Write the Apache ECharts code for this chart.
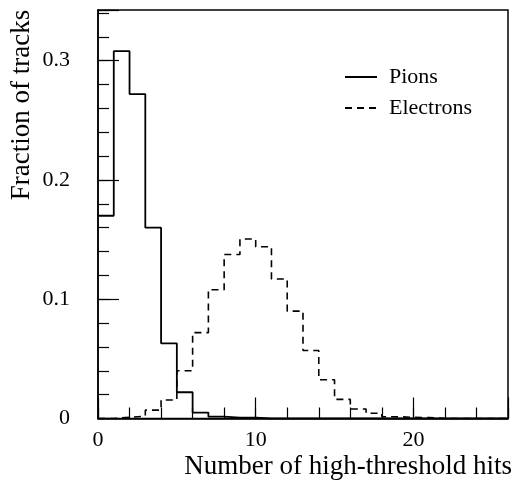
<!DOCTYPE html>
<html>
<head>
<meta charset="utf-8">
<script src="https://cdn.jsdelivr.net/npm/echarts@6/dist/echarts.min.js"></script>
<style>
html,body{margin:0;padding:0;background:#fff;}
#chart{width:515px;height:484px;}
</style>
</head>
<body>
<div id="chart"></div>
<script>
// Bin lower edges are 0,1,2,... (bin width 1)
const pions = [0.170, 0.308, 0.272, 0.160, 0.063, 0.022, 0.005, 0.0015, 0.0007, 0.0007,
  0, 0, 0, 0, 0, 0, 0, 0, 0, 0, 0, 0, 0, 0, 0, 0];
const electrons = [0, 0.001, 0.002, 0.007, 0.0155, 0.040, 0.072, 0.108, 0.1375, 0.1505,
  0.144, 0.117, 0.090, 0.057, 0.0325, 0.016, 0.008, 0.0044, 0.0015, 0.001, 0.0008,
  0, 0, 0, 0, 0];
const seriesNames = ['Pions', 'Electrons'];
const xTitle = 'Number of high-threshold hits';
const yTitle = 'Fraction of tracks';

function steps(vals) {
  const pts = vals.map((v, i) => [i, v]);
  pts.push([vals.length, vals[vals.length - 1]]);
  return pts;
}
const FONT = "'Liberation Serif','DejaVu Serif',serif";
const chart = echarts.init(document.getElementById('chart'), null, {renderer: 'canvas'});
const isMult = (v, m) => Math.abs(v / m - Math.round(v / m)) < 1e-6;
const option = {
  animation: false,
  backgroundColor: '#fff',
  grid: {left: 98, right: 7, top: 10, bottom: 65.5, show: true, borderColor: '#000', borderWidth: 1.5, backgroundColor: 'transparent'},
  legend: {
    orient: 'vertical', left: 339, top: 61, itemWidth: 32, itemHeight: 20, itemGap: 9,
    data: seriesNames,
    itemStyle: {opacity: 0, color: 'transparent', borderWidth: 0},
    textStyle: {fontFamily: FONT, fontSize: 22, color: '#000', padding: [0, 0, 0, 7]}
  },
  xAxis: [{
    type: 'value', min: 0, max: 26, interval: 2,
    axisLine: {show: true, lineStyle: {color: '#000', width: 1.5}},
    axisTick: {show: true, inside: true, length: 11, lineStyle: {color: '#000', width: 1.2}},
    axisLabel: {margin: 11, fontFamily: FONT, fontSize: 22, color: '#000',
      formatter: v => isMult(v, 10) ? String(Math.round(v)) : ''},
    splitLine: {show: false}
  }, {
    type: 'value', min: 0, max: 26, interval: 10, position: 'bottom',
    axisLine: {show: false},
    axisTick: {show: true, inside: true, length: 21, lineStyle: {color: '#000', width: 1.2}},
    axisLabel: {show: false}, splitLine: {show: false}
  }],
  yAxis: [{
    type: 'value', min: 0, max: 0.3425, interval: 0.02,
    axisLine: {show: true, lineStyle: {color: '#000', width: 1.5}},
    axisTick: {show: true, inside: true, length: 11, lineStyle: {color: '#000', width: 1.2}},
    axisLabel: {margin: 28, fontFamily: FONT, fontSize: 22, color: '#000',
      formatter: v => (isMult(v, 0.1) && v < 0.34) ? (v < 1e-9 ? '0' : v.toFixed(1)) : ''},
    splitLine: {show: false}
  }, {
    type: 'value', min: 0, max: 0.3425, interval: 0.1, position: 'left',
    axisLine: {show: false},
    axisTick: {show: true, inside: true, length: 21, lineStyle: {color: '#000', width: 1.2}},
    axisLabel: {show: false}, splitLine: {show: false}
  }],
  graphic: [
    {type: 'text', x: 512, y: 467, style: {text: xTitle, font: "27px " + FONT, fill: '#000', textAlign: 'right', textVerticalAlign: 'middle'}},
    {type: 'text', x: 22, y: 105, rotation: Math.PI / 2, style: {text: yTitle, font: "27px " + FONT, fill: '#000', textAlign: 'center', textVerticalAlign: 'middle'}}
  ],
  series: [{
    name: seriesNames[0], type: 'line', step: 'end', symbol: 'none', data: steps(pions),
    lineStyle: {color: '#000', width: 1.8, type: 'solid'}, itemStyle: {color: '#000'}
  }, {
    name: seriesNames[1], type: 'line', step: 'end', symbol: 'none', data: steps(electrons),
    lineStyle: {color: '#000', width: 1.6, type: [7, 5]}, itemStyle: {color: '#000'}
  }]
};
chart.setOption(option);
</script>
</body>
</html>
